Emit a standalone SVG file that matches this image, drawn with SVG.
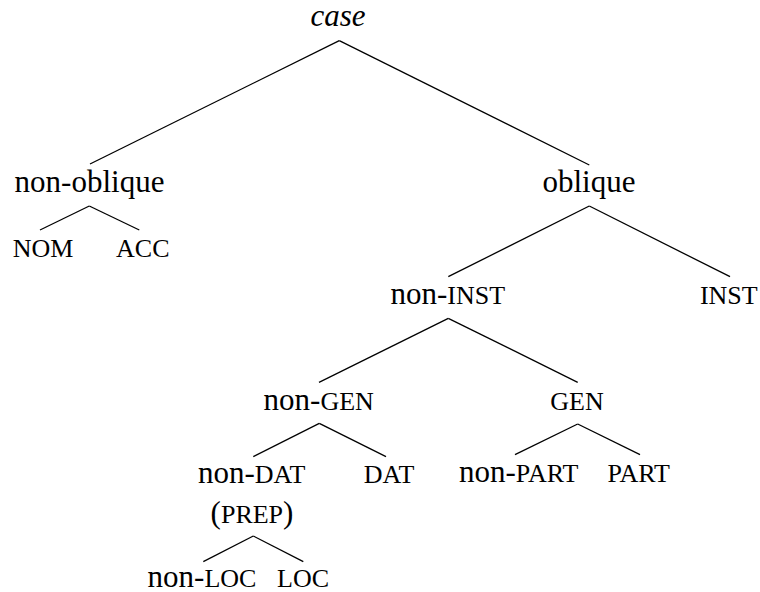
<svg xmlns="http://www.w3.org/2000/svg" width="760" height="592" viewBox="0 0 760 592">
<style>
text{fill:#000;text-anchor:middle}
.sc{font-size:26px}
#edges line{stroke:#000;stroke-width:1.3;fill:none}
</style>
<rect width="760" height="592" fill="#fff"/>
<g id="edges">
<line x1="339.3" y1="40.7" x2="90" y2="164"/>
<line x1="339.3" y1="40.7" x2="589.3" y2="165"/>
<line x1="89.3" y1="206" x2="40" y2="230"/>
<line x1="89.3" y1="206" x2="139.3" y2="230"/>
<line x1="589.3" y1="206" x2="448.3" y2="276.7"/>
<line x1="589.3" y1="206" x2="730" y2="276.7"/>
<line x1="448.3" y1="318.3" x2="319" y2="382.3"/>
<line x1="448.3" y1="318.3" x2="577.7" y2="382.3"/>
<line x1="319.3" y1="423.3" x2="253.3" y2="456.7"/>
<line x1="319.3" y1="423.3" x2="386" y2="456.7"/>
<line x1="577.7" y1="424" x2="515" y2="454.7"/>
<line x1="577.7" y1="424" x2="640" y2="454.7"/>
<line x1="253.3" y1="536" x2="203.3" y2="561.7"/>
<line x1="253.3" y1="536" x2="303.3" y2="561.7"/>
</g>
<g id="case"><text font-family="Liberation Serif" font-size="31" font-style="italic" x="338" y="26">case</text></g>
<g id="non-oblique"><text font-family="Liberation Serif" font-size="31" x="89.5" y="192">non-oblique</text></g>
<g id="oblique"><text font-family="Liberation Serif" font-size="31" x="589" y="192">oblique</text></g>
<g id="nom"><text font-family="Liberation Serif" font-size="26" x="43" y="256.7">NOM</text></g>
<g id="acc"><text font-family="Liberation Serif" font-size="26" x="142.8" y="256.7">ACC</text></g>
<g id="non-inst"><text font-family="Liberation Serif" font-size="31" x="447.8" y="304">non-<tspan class="sc">INST</tspan></text></g>
<g id="inst"><text font-family="Liberation Serif" font-size="26" x="728.8" y="304">INST</text></g>
<g id="non-gen"><text font-family="Liberation Serif" font-size="31" x="318.7" y="410">non-<tspan class="sc">GEN</tspan></text></g>
<g id="gen"><text font-family="Liberation Serif" font-size="26" x="577" y="410">GEN</text></g>
<g id="non-dat"><text font-family="Liberation Serif" font-size="31" x="251.7" y="482.5">non-<tspan class="sc">DAT</tspan></text><text font-family="Liberation Serif" font-size="31" x="252" y="523.3">(<tspan class="sc">PREP</tspan>)</text></g>
<g id="dat"><text font-family="Liberation Serif" font-size="26" x="389" y="482.5">DAT</text></g>
<g id="non-part"><text font-family="Liberation Serif" font-size="31" x="518.7" y="481.5">non-<tspan class="sc">PART</tspan></text></g>
<g id="part"><text font-family="Liberation Serif" font-size="26" x="638.7" y="481.5">PART</text></g>
<g id="non-loc"><text font-family="Liberation Serif" font-size="31" x="202" y="586.5">non-<tspan class="sc">LOC</tspan></text></g>
<g id="loc"><text font-family="Liberation Serif" font-size="26" x="303" y="586.5">LOC</text></g>
</svg>
